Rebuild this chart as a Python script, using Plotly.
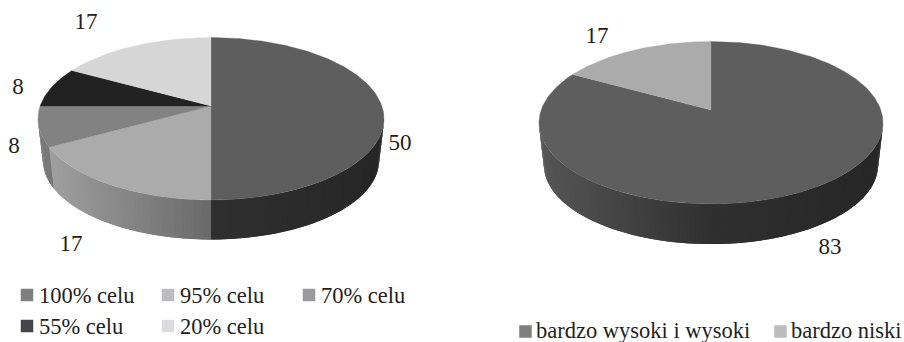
import math
import numpy as np
import plotly.graph_objects as go

# Share of answers in each group
goal_labels = ["100% celu", "95% celu", "70% celu", "55% celu", "20% celu"]
goal_values = [50, 17, 8, 8, 17]
level_labels = ["bardzo wysoki i wysoki", "bardzo niski"]
level_values = [83, 17]

# Slice tones and legend swatch tones
goal_greys = [94, 171, 130, 34, 214]
goal_swatches = ["#7f7f80", "#bcbcbe", "#9a9a9c", "#454547", "#dcdcde"]
level_greys = [94, 171]
level_swatches = ["#7f7f80", "#bcbcbe"]

FONT = "Liberation Serif"
INK = "#231f20"
K = 0.157          # perspective strength of the tilted disc
WALL_SCALE = 0.971 # the lower rim sits slightly further away
STEP = math.radians(1.2)
WALL_FROM = math.acos(-K)                # right silhouette of the disc
WALL_TO = 2 * math.pi - math.acos(-K)    # left silhouette of the disc
fig = go.Figure()


def project(theta, cx, cy, b, a):
    u, v = np.sin(theta), np.cos(theta)
    w = 1 + K * v
    return cx + b * u / w, cy - a * v / w


def wall_grey(g, t):
    m = np.interp(t, [-1, 0, 1], [1.0, 0.75, 0.6])
    c = np.interp(t, [-1, 0, 1], [-8, -23, -18])
    return int(round(max(0, g * m + c)))


def add_poly(xs, ys, grey, seam=0.0):
    col = f"rgb({grey},{grey},{grey})"
    fig.add_trace(go.Scatter(
        x=list(xs), y=list(ys), mode="lines", fill="toself", fillcolor=col,
        line=dict(color=col, width=seam), hoverinfo="skip", showlegend=False,
    ))


def add_pie(values, greys, cx, cy, b, a, depth):
    edges = np.cumsum([0] + list(values)) / sum(values) * 2 * math.pi
    # outer wall: each segment overlaps the next, which paints over it, so no seams show
    for start, stop, g in zip(edges[:-1], edges[1:], greys):
        lo, hi = max(start, WALL_FROM), min(stop, WALL_TO)
        if hi <= lo:
            continue
        n = max(1, int((hi - lo) / STEP))
        th = np.linspace(lo, hi, n + 1)
        for t0, t1 in zip(th[:-1], th[1:]):
            end = min(t1 + STEP, WALL_TO)
            seg = np.linspace(t0, end, 4)
            tx, ty = project(seg, cx, cy, b, a)
            bx = cx + (tx - cx) * WALL_SCALE
            by = cy + depth + (ty - cy) * WALL_SCALE
            mid_x = project(np.array([(t0 + t1) / 2]), cx, cy, b, a)[0][0]
            shade = wall_grey(g, (mid_x - cx) / (b * 1.0126))
            add_poly([*tx, *bx[::-1], tx[0]], [*ty, *by[::-1], ty[0]], shade)
    # top face
    for start, stop, g in zip(edges[:-1], edges[1:], greys):
        th = np.linspace(start, stop, max(3, int((stop - start) / math.radians(1)) + 1))
        x, y = project(th, cx, cy, b, a)
        add_poly([cx, *x, cx], [cy, *y, cy], g, seam=0.3)


def add_value_labels(values, positions):
    fig.add_trace(go.Scatter(
        x=[p[0] for p in positions], y=[p[1] for p in positions],
        text=[str(v) for v in values], mode="text", textposition="middle center",
        textfont=dict(family=FONT, size=23, color=INK),
        hoverinfo="skip", showlegend=False,
    ))


def add_key(labels, swatches, anchors, text_gap, text_lift=0.0):
    for label, swatch, (x, y) in zip(labels, swatches, anchors):
        fig.add_trace(go.Scatter(
            x=[x], y=[y], mode="markers",
            marker=dict(symbol="square", size=12.5, color=swatch, line=dict(width=0)),
            hoverinfo="skip", showlegend=False,
        ))
        fig.add_annotation(
            x=x + text_gap, y=y - text_lift, text=label, showarrow=False,
            xanchor="left", yanchor="middle",
            font=dict(family=FONT, size=22.5, color=INK),
            borderpad=0, borderwidth=0,
        )


add_pie(goal_values, goal_greys, 211, 106, 170.9, 79.25, 42.2)
add_pie(level_values, level_greys, 711, 110, 169.9, 79.25, 42.8)

add_value_labels(goal_values, [(400, 144.5), (71, 245.5), (14, 147), (18, 88), (86, 23)])
add_value_labels(level_values, [(830, 248.5), (597, 37)])

add_key(goal_labels, goal_swatches,
        [(27, 295), (168, 295), (309, 295), (27, 326), (168, 326)], 12)
add_key(level_labels, level_swatches, [(525.5, 331.5), (780.5, 331.5)], 10, text_lift=1.5)

fig.update_layout(
    width=904, height=342, autosize=False,
    margin=dict(l=0, r=0, t=0, b=0),
    paper_bgcolor="white", plot_bgcolor="white",
    xaxis=dict(range=[0, 904], visible=False, fixedrange=True),
    yaxis=dict(range=[342, 0], visible=False, fixedrange=True),
)
fig.write_html("out.html", config={"displayModeBar": False})
